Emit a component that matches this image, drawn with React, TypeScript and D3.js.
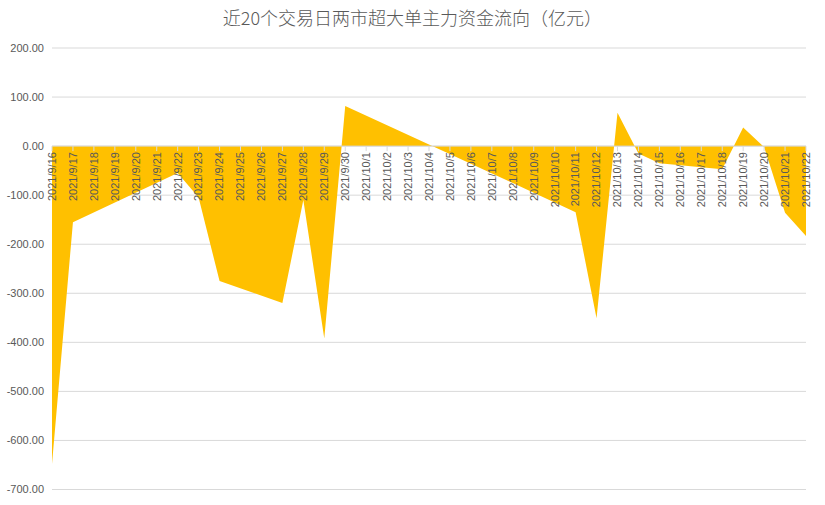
import React from 'react';
import * as d3 from 'd3';

// Trading days and main-force net flow (亿元)
const tradeDates = [
  '2021-09-16', '2021-09-17', '2021-09-22', '2021-09-23', '2021-09-24',
  '2021-09-27', '2021-09-28', '2021-09-29', '2021-09-30', '2021-10-08',
  '2021-10-11', '2021-10-12', '2021-10-13', '2021-10-14', '2021-10-15',
  '2021-10-18', '2021-10-19', '2021-10-20', '2021-10-21', '2021-10-22',
];
const flowValues = [
  -648, -155, -55, -105, -275,
  -320, -110, -392, 82, -75,
  -135, -351, 68, -15, -35,
  -47, 38, -2, -136, -183,
];
const yTicks = [200, 100, 0, -100, -200, -300, -400, -500, -600, -700];
const title = '近20个交易日两市超大单主力资金流向（亿元）';

const W = 825;
const H = 505;
const parse = d3.timeParse('%Y-%m-%d');

const App: React.FC = () => {
  const points = tradeDates.map((d, i) => ({ date: parse(d) as Date, value: flowValues[i] }));
  const start = points[0].date;
  const end = points[points.length - 1].date;

  const x = d3.scaleTime().domain([start, end]).range([52, 806]);
  const y = d3.scaleLinear().domain([-700, 200]).range([489.5, 48]);

  const area = d3.area<{ date: Date; value: number }>()
    .x(d => x(d.date))
    .y0(y(0))
    .y1(d => y(d.value));

  // every calendar day gets a tick and label
  const days = d3.timeDay.range(start, d3.timeDay.offset(end, 1));
  const fmt = (d: Date) => `${d.getFullYear()}/${d.getMonth() + 1}/${d.getDate()}`;

  const font = '"Liberation Sans", Arial, sans-serif';

  return (
    <svg width={W} height={H} style={{ position: 'absolute', left: 0, top: 0, background: '#fff' }}>
      <text x={W / 2} y={25} textAnchor="middle" fontSize={18}
        fontFamily='"Noto Sans CJK SC", sans-serif' fontWeight={300} fill="#595959">
        {title}
      </text>

      {/* gridlines + y labels */}
      {yTicks.map(t => (
        <g key={t}>
          <line x1={52} x2={806} y1={y(t)} y2={y(t)} stroke="#d9d9d9" strokeWidth={1} />
          <text x={44} y={y(t)} dy="0.35em" textAnchor="end" fontSize={11}
            fontFamily={font} fill="#595959">
            {t.toFixed(2)}
          </text>
        </g>
      ))}

      <path d={area(points) || ''} fill="#FFC000" />

      {/* category axis at zero */}
      <line x1={52} x2={806} y1={y(0)} y2={y(0)} stroke="#d9d9d9" strokeWidth={1} />
      {days.map(d => (
        <g key={d.getTime()} transform={`translate(${x(d)},${y(0)})`}>
          <line y1={0} y2={5} stroke="#d9d9d9" />
          <text transform="translate(0,6) rotate(-90)" dy="0.35em" textAnchor="end"
            fontSize={11} fontFamily={font} fill="#595959">
            {fmt(d)}
          </text>
        </g>
      ))}
    </svg>
  );
};

export default App;
